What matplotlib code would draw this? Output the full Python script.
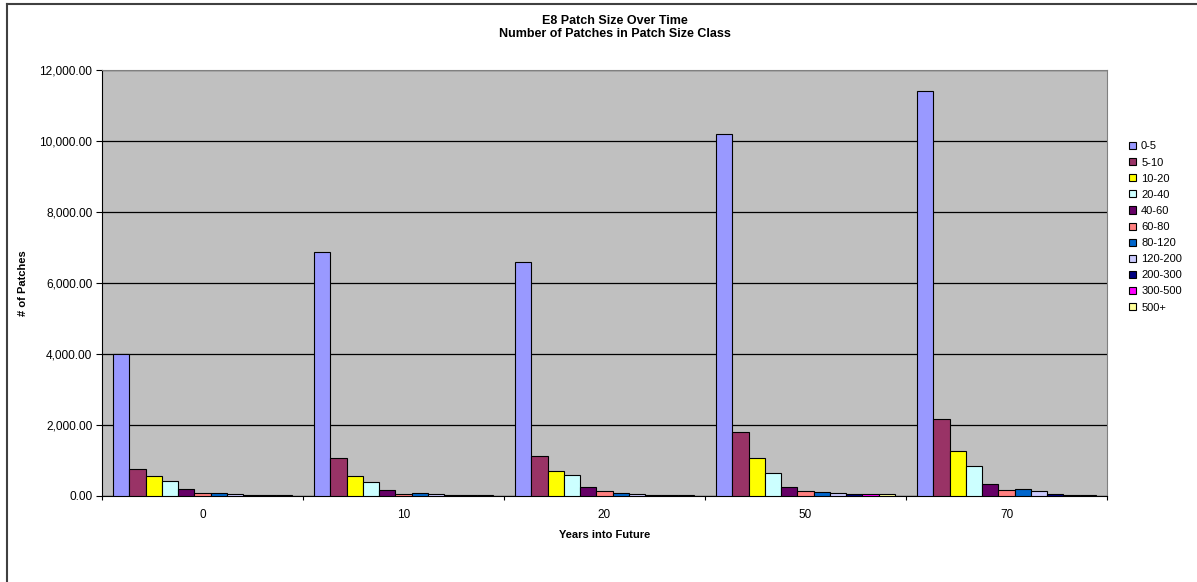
import numpy as np
import matplotlib
matplotlib.use("Agg")
import matplotlib.pyplot as plt
from matplotlib.lines import Line2D

plt.rcParams['font.family'] = ['Liberation Sans', 'DejaVu Sans']

years = ['0', '10', '20', '50', '70']
size_classes = ['0-5', '5-10', '10-20', '20-40', '40-60', '60-80',
                '80-120', '120-200', '200-300', '300-500', '500+']

# number of patches per size class, one list per year
patches_0 = [4010, 748, 561, 430, 196, 93, 84, 65, 37, 15, 37]
patches_10 = [6880, 1075, 561, 402, 178, 66, 85, 66, 28, 28, 28]
patches_20 = [6600, 1123, 698, 585, 245, 142, 85, 66, 28, 28, 28]
patches_50 = [10200, 1802, 1066, 641, 255, 132, 123, 75, 47, 47, 47]
patches_70 = [11400, 2170, 1255, 858, 330, 160, 189, 132, 47, 28, 28]

colors = ['#9999FF', '#993366', '#FFFF00', '#CCFFFF', '#660066', '#FF8080',
          '#0066CC', '#CCCCFF', '#000080', '#FF00FF', '#FFFF99']

data = np.array([patches_0, patches_10, patches_20, patches_50, patches_70])

fig = plt.figure(figsize=(11.97, 5.82), dpi=100)
ax = fig.add_axes([102/1197, 1 - 496/582, 1005/1197, 426/582])
ax.set_facecolor('#C0C0C0')

x = np.arange(len(years))
w = 0.081
n = len(size_classes)
for j in range(n):
    ax.bar(x + (j - (n - 1) / 2) * w, data[:, j], width=w, color=colors[j],
           edgecolor='black', linewidth=0.8, label=size_classes[j], zorder=3)

ax.set_xlim(-0.5, len(years) - 0.5)
ax.set_ylim(0, 12000)
ax.set_yticks(np.arange(0, 12001, 2000))
ax.set_yticklabels([f"{v:,.2f}" for v in np.arange(0, 12001, 2000)])
ax.yaxis.grid(True, color='black', linewidth=0.9, zorder=1)

ax.set_xticks(np.arange(-0.5, len(years), 1.0))
ax.set_xticklabels([])
ax.set_xticks(x, minor=True)
ax.set_xticklabels(years, minor=True)
ax.tick_params(axis='x', which='minor', length=0, pad=9, labelsize=8.5)
ax.tick_params(axis='x', which='major', length=3, direction='out')
ax.tick_params(axis='y', length=4, direction='out', labelsize=8.6, pad=3)

for s in ['top', 'right']:
    ax.spines[s].set_color('#808080')
for s in ['left', 'bottom']:
    ax.spines[s].set_color('black')

ax.set_ylabel('# of Patches', fontsize=8, fontweight='bold')
ax.yaxis.set_label_coords(-0.0736, 0.5)
ax.set_xlabel('Years into Future', fontsize=8, fontweight='bold')
ax.xaxis.set_label_coords(0.5, -0.08)

fig.text(615/1197, 1 - 21/582, 'E8 Patch Size Over Time', ha='center', va='center',
         fontsize=9, fontweight='bold')
fig.text(615/1197, 1 - 34/582, 'Number of Patches in Patch Size Class', ha='center',
         va='center', fontsize=9, fontweight='bold')

ax.legend(loc='upper left', bbox_to_anchor=(1125/1197, 1 - 137/582),
          bbox_transform=fig.transFigure, frameon=False, fontsize=8,
          handlelength=0.6, handleheight=0.6, handletextpad=0.45,
          labelspacing=0.55, borderaxespad=0)

fig.add_artist(Line2D([7/1197, 7/1197], [0, 1 - 4/582], color='#404040', linewidth=1.5))
fig.add_artist(Line2D([7/1197, 1], [1 - 4/582, 1 - 4/582], color='#404040', linewidth=1.5))

fig.savefig('out.png', dpi=100)
